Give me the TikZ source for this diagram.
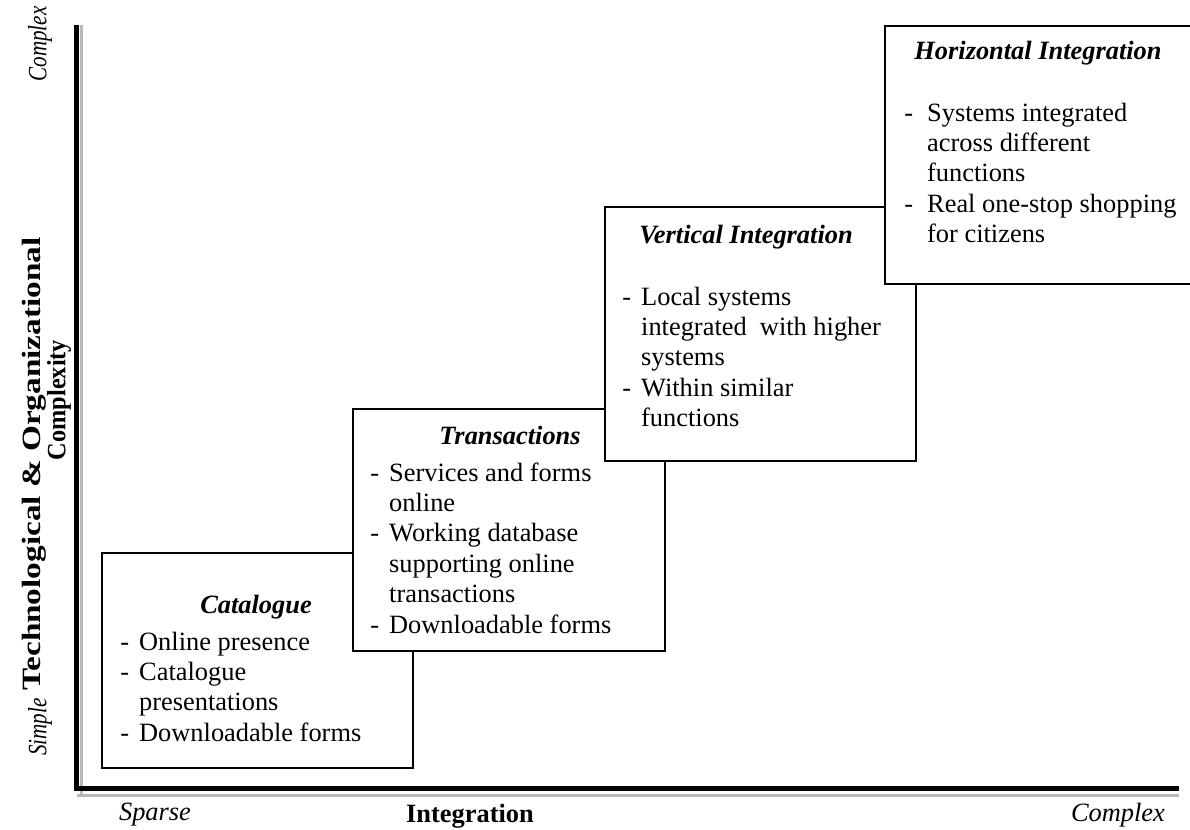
\documentclass[tikz,border=0pt]{standalone}
\usepackage{fontspec}
\setmainfont{Liberation Serif}
\usetikzlibrary{positioning}
\tikzset{
    stage/.style={draw, line width=1.2pt, fill=white, anchor=north west, inner sep=0pt},
    title/.style={font=\bfseries\itshape, anchor=base, inner sep=0pt},
    items/.style={anchor=base west, inner sep=0pt},
    axislabel/.style={font=\itshape, inner sep=0pt},
    axistitle/.style={font=\bfseries, inner sep=0pt}
}
\newcommand{\itemrows}[1]{\begin{tabular}[t]{@{}l@{\hspace{5pt}}l@{}}#1\end{tabular}}
\begin{document}
\begin{tikzpicture}[x=0.5pt, y=-0.5pt]
        \fontsize{13.2}{15.2}\selectfont
        \useasboundingbox (0,0) rectangle (1190,830);
        % axes
        \coordinate (ytop) at (76.5,25);
        \coordinate (origin) at (76.5,788.5);
        \coordinate (xend) at (1179,788.5);
        \draw [gray!55, line width=1.5pt] ([xshift=2.5]ytop) -- ([xshift=2.5,yshift=-2.5]origin);
        \draw [gray!55, line width=1.5pt] ([yshift=-3.5]origin) -- ([yshift=-3.5]xend);
        \draw [line width=2.5pt] (ytop) -- (origin) -- (xend);
        % stages
        \node (cat) [stage, minimum width=155.5pt, minimum height=107.5pt] at (101,552) {};
        \node (trans) [stage, minimum width=156pt, minimum height=121pt] at (352,408) {};
        \node (vert) [stage, minimum width=155.5pt, minimum height=127pt] at (604,206) {};
        \node (horiz) [stage, minimum width=155.5pt, minimum height=129pt] at (884,25) {};
        \begin{scope}
            \node (catTitle) [title] at (256,613) {Catalogue};
            \node (catList) [items] at (120,650) {\itemrows{
                -& Online presence\\
                -& Catalogue\\
                 & presentations\\
                -& Downloadable forms}};
            \node (transTitle) [title] at (510,444) {Transactions};
            \node (transList) [items] at (370,481) {\itemrows{
                -& Services and forms\\
                 & online\\
                -& Working database\\
                 & supporting online\\
                 & transactions\\
                -& Downloadable forms}};
            \node (vertTitle) [title] at (746,243) {Vertical Integration};
            \node (vertList) [items] at (622,305) {\itemrows{
                -& Local systems\\
                 & integrated\ \ with higher\\
                 & systems\\
                -& Within similar\\
                 & functions}};
            \node (horizTitle) [title] at (1038,59) {Horizontal Integration};
            \node (horizList) [items] at (904,121) {\itemrows{
                -& \hspace{2pt}Systems integrated\\
                 & \hspace{2pt}across different\\
                 & \hspace{2pt}functions\\
                -& \hspace{2pt}Real one-stop shopping\\
                 & \hspace{2pt}for citizens}};
        \end{scope}
        % axis labels
        \node (yhigh) [axislabel, rotate=90, xscale=0.8] at (40,44) {Complex};
        \node (ylow) [axislabel, rotate=90, xscale=0.8] at (40,727) {Simple};
        \node (ytitle) [axistitle, rotate=90, xscale=1.26] at (34,464)
            {Technological \& Organizational};
        \node (ytitleb) [axistitle, rotate=90, xscale=0.92] at (59,400) {Complexity};
        \node (xlow) [axislabel] at (155,815) {Sparse};
        \node (xtitle) [axistitle] at (470,816) {Integration};
        \node (xhigh) [axislabel] at (1118,815) {Complex};
\end{tikzpicture}
\end{document}
